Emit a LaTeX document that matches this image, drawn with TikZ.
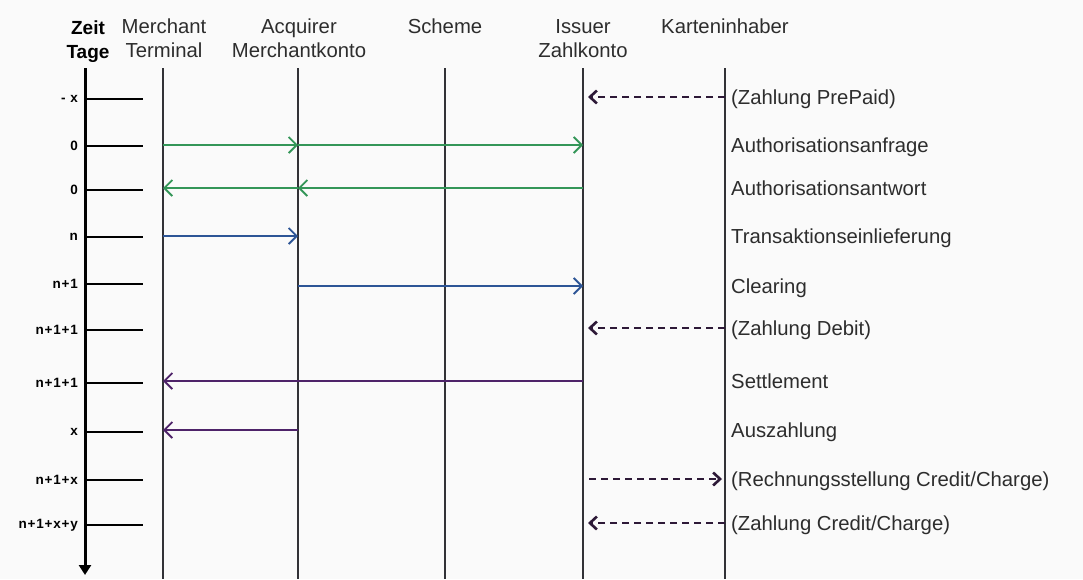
\documentclass[tikz,border=0pt]{standalone}
\usepackage{fontspec}
\setmainfont{Liberation Sans}
\usetikzlibrary{positioning, arrows.meta}
\definecolor{msgGreen}{RGB}{52, 150, 88}
\definecolor{msgBlue}{RGB}{45, 85, 150}
\definecolor{msgPurple}{RGB}{78, 35, 105}
\definecolor{msgDash}{RGB}{45, 25, 55}
\definecolor{lineGray}{RGB}{50, 50, 55}
\definecolor{txtGray}{RGB}{45, 45, 45}
\definecolor{paper}{RGB}{250, 250, 250}

\begin{document}
\begin{tikzpicture}[x=1pt, y={(0pt,-1pt)}, font=\fontsize{20.3}{24}\selectfont\color{txtGray},
    lifeline/.style={lineGray, line width=1.4pt},
    tickline/.style={black, line width=2.6pt},
    ticklbl/.style={anchor=east, inner sep=0pt, text=black, font=\fontsize{13.5}{15}\selectfont\bfseries\addfontfeature{LetterSpace=6}},
    head/.style={anchor=north, align=center, inner sep=0pt},
    lbl/.style={anchor=west, inner sep=0pt, text height=16pt, text depth=2pt},
    msg/.style={line width=1.7pt, -{Straight Barb[length=8pt, width=16pt, line width=1.8pt]}},
    dsh/.style={msgDash, line width=2.4pt, dash pattern=on 7pt off 5pt, shorten >=5pt,
        -{Straight Barb[length=7pt, width=13pt, line width=2.6pt]}}]
    \useasboundingbox[fill=paper] (0,0) rectangle (1083,579);
    % headers
    \node[head, text=black, font=\fontsize{19}{24}\selectfont\bfseries] (hzeit) at (88,21) {Zeit\\Tage};
    \node[head] (hmer) at (164,19) {Merchant\\Terminal};
    \node[head] (hacq) at (299,19) {Acquirer\\Merchantkonto};
    \node[head] (hsch) at (445,19) {Scheme};
    \node[head] (hiss) at (583,19) {Issuer\\Zahlkonto};
    \node[head] (hkar) at (725,19) {Karteninhaber};
    % lifelines
    \coordinate (mer) at (163,68);
    \coordinate (acq) at (298,68);
    \coordinate (sch) at (445,68);
    \coordinate (iss) at (583,68);
    \coordinate (kar) at (725,68);
    \coordinate (bot) at (0,579);
    \foreach \ll in {mer, acq, sch, iss, kar}
        \draw[lifeline] (\ll) -- (\ll |- bot);
    % time axis
    \coordinate (axtop) at (85,68);
    \coordinate (axbot) at (85,575);
    \draw[black, line width=3pt, -{Triangle[length=10pt, width=12pt]}] (axtop) -- (axbot);
    \foreach \yy/\txt [count=\i] in {99/{- x}, 146/0, 190/0, 237/n, 284/{n+1}, 330/{n+1+1},
            383/{n+1+1}, 432/x, 480/{n+1+x}, 525/{n+1+x+y}} {
        \coordinate (tk\i) at (85,\yy);
        \coordinate (te\i) at (143,\yy);
        \node[ticklbl] (tl\i) at (78,\yy) {\txt};
        \draw[tickline] (tk\i) -- (te\i);
    }
    % message labels
    \node[lbl] (l1) at (731,97) {(Zahlung PrePaid)};
    \node[lbl] (l2) at (731,145) {Authorisationsanfrage};
    \node[lbl] (l3) at (731,188) {Authorisationsantwort};
    \node[lbl] (l4) at (731,236) {Transaktionseinlieferung};
    \node[lbl] (l5) at (731,286) {Clearing};
    \node[lbl] (l6) at (731,328) {(Zahlung Debit)};
    \node[lbl] (l7) at (731,381) {Settlement};
    \node[lbl] (l8) at (731,430) {Auszahlung};
    \node[lbl] (l9) at (731,479) {(Rechnungsstellung Credit/Charge)};
    \node[lbl] (l10) at (731,523) {(Zahlung Credit/Charge)};
    % messages
    \draw[dsh] (kar |- l1) -- (iss |- l1);
    \draw[msg, msgGreen] (mer |- l2) -- (acq |- l2);
    \draw[msg, msgGreen] (acq |- l2) -- (iss |- l2);
    \draw[msg, msgGreen] (iss |- l3) -- (acq |- l3);
    \draw[msg, msgGreen] (acq |- l3) -- (mer |- l3);
    \draw[msg, msgBlue] (mer |- l4) -- (acq |- l4);
    \draw[msg, msgBlue] (acq |- l5) -- (iss |- l5);
    \draw[dsh] (kar |- l6) -- (iss |- l6);
    \draw[msg, msgPurple] (iss |- l7) -- (mer |- l7);
    \draw[msg, msgPurple] (acq |- l8) -- (mer |- l8);
    \draw[dsh, shorten <=6pt, shorten >=3pt] (iss |- l9) -- (kar |- l9);
    \draw[dsh] (kar |- l10) -- (iss |- l10);
\end{tikzpicture}
\end{document}
